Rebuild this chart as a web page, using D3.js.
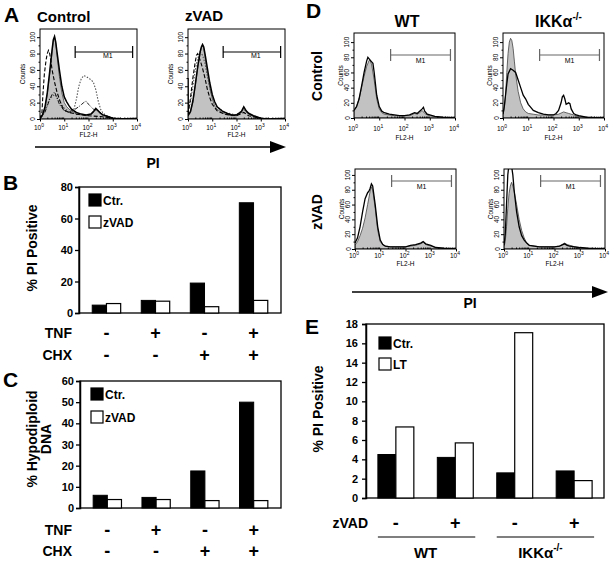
<!DOCTYPE html>
<html><head><meta charset="utf-8">
<script src="https://cdn.jsdelivr.net/npm/d3@7"></script>
<style>body{margin:0;background:#fff} svg{display:block} text{font-family:"Liberation Sans",Arial,Helvetica,sans-serif}</style>
</head><body><svg id="c" width="614" height="562"></svg>
<script>
// ---------- DATA ----------
const barGroups = ["g1","g2","g3","g4"];
const tnfLabels = ["-","+","-","+"];
const chxLabels = ["-","-","+","+"];
const piCtr = [5, 8, 19, 70];
const piZvad = [6, 7.5, 4, 8];
const hypoCtr = [6, 5, 17.5, 50];
const hypoZvad = [4, 4, 3.5, 3.5];
const eCtr = [4.5, 4.2, 2.6, 2.8];
const eLT = [7.35, 5.7, 17.1, 1.8];
const eZvadLabels = ["-","+","-","+"];
const bTicks = [0,20,40,60,80];
const cTicks = [0,10,20,30,40,50,60];
const eTicks = [0,2,4,6,8,10,12,14,16,18];
const histYTicks = [0,20,40,60,80,100];
const histDecades = [0,1,2,3,4];
const m1Gate = [1.45, 3.82];

// histograms: [log10(FL2-H), counts]
const aCtrlFill = [[0,1],[0.1,4],[0.2,12],[0.3,30],[0.4,55],[0.5,82],[0.55,96],[0.6,100],[0.65,92],[0.7,78],[0.8,52],[0.9,32],[1.0,20],[1.1,15],[1.2,12],[1.3,10],[1.5,6],[1.7,5],[1.9,4],[2.1,5],[2.2,8],[2.3,12],[2.4,9],[2.5,6],[2.6,4],[2.8,3],[3.0,1],[3.2,0],[4,0]];
const aCtrlSolid = [[0,1],[0.1,5],[0.2,14],[0.3,32],[0.4,58],[0.5,85],[0.55,97],[0.6,101],[0.65,94],[0.7,82],[0.8,60],[0.9,40],[1.0,27],[1.1,21],[1.2,16],[1.3,12],[1.5,8],[1.7,6],[1.9,5],[2.1,6],[2.2,9],[2.3,13],[2.4,10],[2.5,7],[2.6,5],[2.8,3],[3.0,1],[3.2,0],[4,0]];
const aCtrlDash = [[0,0],[0.08,8],[0.12,30],[0.18,55],[0.25,72],[0.3,80],[0.35,84],[0.4,80],[0.5,60],[0.6,45],[0.7,33],[0.8,24],[0.9,16],[1.0,11],[1.2,8],[1.5,6],[2.0,4],[2.5,3],[3.0,1],[4,0]];
const aCtrlDot = [[0,0],[0.2,10],[0.4,25],[0.6,30],[0.8,22],[1.0,13],[1.2,9],[1.4,12],[1.5,24],[1.6,40],[1.7,49],[1.8,53],[1.9,52],[2.0,50],[2.1,48],[2.2,45],[2.3,36],[2.4,22],[2.5,12],[2.6,7],[2.8,3],[3.0,1],[4,0]];
const aCtrlDashDot = [[0,0],[0.2,8],[0.4,24],[0.5,30],[0.6,33],[0.7,26],[0.8,18],[1.0,10],[1.2,8],[1.4,11],[1.6,15],[1.8,20],[1.9,22],[2.0,18],[2.2,12],[2.4,10],[2.6,5],[3.0,1],[4,0]];

const aZvFill = [[0,3],[0.1,8],[0.2,20],[0.3,40],[0.4,62],[0.5,80],[0.55,87],[0.6,90],[0.65,86],[0.7,76],[0.8,56],[0.9,38],[1.0,25],[1.1,16],[1.2,12],[1.4,8],[1.6,5],[1.8,4],[2.0,4],[2.2,8],[2.3,14],[2.4,9],[2.5,6],[2.7,3],[3.0,1],[3.2,0],[4,0]];
const aZvSolid = [[0,50],[0.01,5],[0.1,9],[0.2,22],[0.3,42],[0.4,64],[0.5,82],[0.55,88],[0.6,91],[0.65,88],[0.7,80],[0.8,62],[0.9,44],[1.0,30],[1.1,21],[1.2,15],[1.4,10],[1.6,7],[1.8,5],[2.0,5],[2.2,9],[2.3,15],[2.4,10],[2.5,7],[2.7,4],[3.0,1],[3.2,0],[4,0]];
const aZvDash = [[0,5],[0.1,25],[0.2,50],[0.3,70],[0.35,78],[0.4,80],[0.5,72],[0.6,62],[0.7,50],[0.8,36],[0.9,26],[1.0,18],[1.2,10],[1.5,6],[2.0,4],[2.3,8],[2.5,4],[3.0,1],[4,0]];
const aZvDot = [[0,10],[0.1,20],[0.2,40],[0.3,60],[0.4,74],[0.5,82],[0.6,78],[0.7,68],[0.8,52],[0.9,38],[1.0,27],[1.2,15],[1.5,8],[2.0,5],[2.3,12],[2.5,6],[3.0,1],[4,0]];

const dWtCtrlFill = [[0,10],[0.1,15],[0.2,25],[0.3,40],[0.4,55],[0.5,68],[0.6,76],[0.65,75],[0.7,70],[0.8,50],[0.9,25],[1.0,12],[1.1,7],[1.2,5],[1.4,4],[1.6,3],[1.8,3],[2.0,3],[2.2,3],[2.4,6],[2.5,5],[2.6,7],[2.7,10],[2.8,6],[2.9,4],[3.0,3],[3.2,2],[3.5,1],[4,0]];
const dWtCtrlLine = [[0,10],[0.1,15],[0.2,25],[0.3,42],[0.4,60],[0.5,75],[0.55,80],[0.6,78],[0.7,74],[0.75,72],[0.8,60],[0.9,30],[1.0,15],[1.1,9],[1.2,7],[1.4,5],[1.6,4],[1.8,3],[2.0,3],[2.2,4],[2.4,7],[2.5,6],[2.6,9],[2.7,12],[2.75,14],[2.8,9],[2.9,5],[3.0,4],[3.2,2],[3.5,1],[4,0]];
const dIkkCtrlFill = [[0,5],[0.05,12],[0.1,30],[0.15,60],[0.2,85],[0.25,100],[0.3,105],[0.35,102],[0.4,92],[0.45,75],[0.5,58],[0.6,35],[0.7,20],[0.8,12],[0.9,8],[1.0,6],[1.2,5],[1.4,4],[1.6,4],[1.8,4],[2.0,4],[2.2,5],[2.4,8],[2.5,7],[2.6,6],[2.8,4],[3.0,2],[3.3,1],[4,0]];
const dIkkCtrlLine = [[0,5],[0.05,15],[0.1,30],[0.15,45],[0.2,58],[0.3,65],[0.4,63],[0.5,60],[0.6,50],[0.7,40],[0.8,30],[0.9,25],[1.0,18],[1.1,14],[1.2,10],[1.4,7],[1.6,5],[1.8,4],[2.0,4],[2.1,6],[2.2,10],[2.3,20],[2.35,28],[2.4,30],[2.45,25],[2.5,18],[2.6,20],[2.65,19],[2.7,12],[2.8,6],[2.9,4],[3.0,3],[3.3,1],[4,0]];
const dWtZvFill = [[0,5],[0.1,10],[0.2,18],[0.3,28],[0.4,42],[0.5,60],[0.6,78],[0.65,84],[0.7,80],[0.8,55],[0.9,25],[1.0,10],[1.1,6],[1.2,4],[1.4,3],[1.6,3],[1.8,3],[2.0,3],[2.2,4],[2.4,5],[2.6,7],[2.7,9],[2.8,6],[3.0,4],[3.2,2],[3.5,1],[4,0]];
const dWtZvLine = [[0,8],[0.1,15],[0.2,30],[0.3,50],[0.4,68],[0.5,76],[0.55,78],[0.6,82],[0.65,88],[0.7,85],[0.8,60],[0.9,30],[1.0,12],[1.1,6],[1.2,4],[1.4,3],[1.6,3],[1.8,3],[2.0,3],[2.2,5],[2.4,6],[2.6,8],[2.7,10],[2.8,7],[3.0,5],[3.2,2],[3.5,1],[4,0]];
const dIkkZvFill = [[0,3],[0.05,10],[0.1,30],[0.15,55],[0.2,75],[0.25,85],[0.3,90],[0.35,85],[0.4,78],[0.5,60],[0.6,40],[0.7,25],[0.8,15],[0.9,8],[1.0,5],[1.2,4],[1.4,3],[1.6,3],[1.8,3],[2.0,3],[2.2,4],[2.4,8],[2.5,6],[2.6,5],[2.8,3],[3.0,2],[3.3,1],[4,0]];
const dIkkZvLine = [[0,5],[0.05,20],[0.1,60],[0.15,100],[0.2,115],[0.25,120],[0.3,112],[0.35,100],[0.4,80],[0.5,50],[0.6,30],[0.7,18],[0.8,12],[0.9,8],[1.0,5],[1.2,4],[1.4,3],[1.6,3],[1.8,3],[2.0,3],[2.2,4],[2.4,7],[2.5,5],[2.6,4],[2.8,3],[3.0,2],[3.3,1],[4,0]];

// ---------- DRAWING ----------
const svg = d3.select("#c");
let clipN = 0;

function label(x, y, s, size, o = {}) {
  const t = svg.append("text").attr("x", x).attr("y", y).attr("font-size", size)
    .attr("font-weight", o.bold === false ? "normal" : "bold")
    .attr("text-anchor", o.anchor || "start").attr("fill", o.fill || "#000");
  if (o.rot) t.attr("transform", `rotate(-90 ${x} ${y})`);
  t.text(s);
  return t;
}

function hist(o) {
  const x = d3.scaleLinear().domain([0, 4]).range([o.x, o.x + o.w]);
  const y = d3.scaleLinear().domain([0, o.yMax]).range([o.y + o.h, o.y]);
  const id = "clip" + (clipN++);
  svg.append("clipPath").attr("id", id).append("rect")
    .attr("x", o.x).attr("y", o.y).attr("width", o.w).attr("height", o.h);
  const g = svg.append("g").attr("clip-path", `url(#${id})`);
  const area = d3.area().x(d => x(d[0])).y0(y(0)).y1(d => y(d[1]));
  const line = d3.line().x(d => x(d[0])).y(d => y(d[1]));
  g.append("path").datum(o.fill).attr("d", area).attr("fill", "#c2c2c2")
    .attr("stroke", "#444").attr("stroke-width", 0.8);
  o.lines.forEach(l => g.append("path").datum(l.data).attr("d", line)
    .attr("fill", "none").attr("stroke", l.color || "#000")
    .attr("stroke-width", l.w || 1.3).attr("stroke-dasharray", l.dash || null));
  svg.append("rect").attr("x", o.x).attr("y", o.y).attr("width", o.w).attr("height", o.h)
    .attr("fill", "none").attr("stroke", "#000").attr("stroke-width", 1);
  const ya = svg.append("g").attr("transform", `translate(${o.x},0)`)
    .call(d3.axisLeft(y).tickValues(histYTicks).tickSize(3).tickFormat(""));
  ya.select(".domain").remove();
  const minorY = d3.range(10, 101, 20);
  svg.append("g").attr("transform", `translate(${o.x},0)`)
    .call(d3.axisLeft(y).tickValues(minorY).tickSize(1.5).tickFormat(""))
    .select(".domain").remove();
  histYTicks.forEach(t => label(o.x - o.labOff, y(t), t, 6.5, { bold: false, anchor: "middle", rot: true }));
  label(o.x - o.cntOff, o.y + o.h / 2, "Counts", 6.5, { bold: false, anchor: "middle", rot: true });
  const minorX = [];
  for (let d = 0; d < 4; d++) for (let k = 2; k <= 9; k++) minorX.push(d + Math.log10(k));
  svg.append("g").attr("transform", `translate(0,${o.y + o.h})`)
    .call(d3.axisTop(x).tickValues(minorX).tickSize(1.5).tickFormat(""))
    .select(".domain").remove();
  svg.append("g").attr("transform", `translate(0,${o.y + o.h})`)
    .call(d3.axisBottom(x).tickValues(histDecades).tickSize(2.5).tickFormat(""))
    .select(".domain").remove();
  histDecades.forEach(dd => {
    const t = svg.append("text").attr("x", x(dd) - 1).attr("y", o.xlabY)
      .attr("font-size", 6.5).attr("text-anchor", "middle");
    t.append("tspan").text("10");
    t.append("tspan").attr("dy", -3).attr("font-size", 5).text(dd);
  });
  label(o.x + o.w / 2, o.flY, "FL2-H", 6.5, { bold: false, anchor: "middle" });
  const mc = o.m1Color;
  const mg = svg.append("g").attr("stroke", mc).attr("stroke-width", 1.2);
  mg.append("line").attr("x1", x(m1Gate[0])).attr("x2", x(m1Gate[1])).attr("y1", o.m1y).attr("y2", o.m1y);
  m1Gate.forEach(v => mg.append("line").attr("x1", x(v)).attr("x2", x(v)).attr("y1", o.m1y - 6).attr("y2", o.m1y + 6));
  label(x((m1Gate[0] + m1Gate[1]) / 2) + (o.m1dx || 0), o.m1y + o.m1ty, "M1", 7, { bold: false, anchor: "middle" });
}

function bars(o) {
  const x = d3.scaleBand().domain(barGroups).range([o.x0, o.x1]).paddingInner(o.pi).paddingOuter(o.po);
  const xs = d3.scaleBand().domain(["a", "b"]).range([0, x.bandwidth()]);
  const y = d3.scaleLinear().domain([0, o.max]).range([o.yBot, o.yTop]);
  svg.append("rect").attr("x", o.x0).attr("y", o.yTop).attr("width", o.x1 - o.x0)
    .attr("height", o.yBot - o.yTop).attr("fill", "none").attr("stroke", "#000").attr("stroke-width", 1.3);
  const ax = svg.append("g").attr("transform", `translate(${o.x0},0)`)
    .call(d3.axisLeft(y).tickValues(o.ticks).tickSize(4).tickPadding(o.tp || 2));
  ax.select(".domain").attr("stroke-width", 1.5);
  ax.selectAll("line").attr("stroke-width", 1.3);
  ax.selectAll("text").attr("font-size", 11).attr("font-weight", "bold")
    .attr("font-family", '"Liberation Sans",Arial,sans-serif');
  barGroups.forEach((gn, i) => {
    svg.append("rect").attr("x", x(gn) + xs("a")).attr("y", y(o.a[i]))
      .attr("width", xs.bandwidth()).attr("height", y(0) - y(o.a[i]))
      .attr("fill", "#000").attr("stroke", "#000").attr("stroke-width", 1);
    svg.append("rect").attr("x", x(gn) + xs("b")).attr("y", y(o.b[i]))
      .attr("width", xs.bandwidth()).attr("height", y(0) - y(o.b[i]))
      .attr("fill", "#fff").attr("stroke", "#000").attr("stroke-width", 1.2);
  });
  o.legend.forEach((l, i) => {
    svg.append("rect").attr("x", o.lx).attr("y", o.ly[i]).attr("width", 12).attr("height", 12)
      .attr("fill", i === 0 ? "#000" : "#fff").attr("stroke", "#000").attr("stroke-width", 1.2);
    label(o.lx + 14, o.ly[i] + 11, l, 12);
  });
  o.rows.forEach(r => {
    label(o.rowX, r.y, r.name, 14, { anchor: "end" });
    barGroups.forEach((gn, i) => label(x(gn) + x.bandwidth() / 2, r.y + 1, r.vals[i], 18, { anchor: "middle" }));
  });
  return x;
}

function arrow(x1, x2, y) {
  svg.append("line").attr("x1", x1).attr("x2", x2 - 10).attr("y1", y).attr("y2", y)
    .attr("stroke", "#000").attr("stroke-width", 1.5);
  svg.append("path").attr("d", `M${x2},${y} L${x2 - 16},${y - 6} L${x2 - 16},${y + 6} Z`).attr("fill", "#000");
}

// ----- Panel A -----
label(4, 22, "A", 21);
label(37, 22, "Control", 15);
label(185, 21, "zVAD", 15);
const aCommon = { y: 29, w: 97, h: 90, yMax: 110, labOff: 5, cntOff: 15, xlabY: 130, flY: 137, m1y: 52, m1ty: 6, m1dx: 4, m1Color: "#000" };
hist(Object.assign({}, aCommon, { x: 40, fill: aCtrlFill, lines: [
  { data: aCtrlDot, dash: "1.5,1.5", color: "#555", w: 1.1 },
  { data: aCtrlDashDot, dash: "4,1.5,1,1.5", w: 0.9 },
  { data: aCtrlDash, dash: "4,2", w: 1.1 },
  { data: aCtrlSolid, w: 1.5 }] }));
hist(Object.assign({}, aCommon, { x: 188, fill: aZvFill, lines: [
  { data: aZvDot, dash: "1.5,1.5", color: "#555", w: 1.1 },
  { data: aZvDash, dash: "4,2", w: 1.1 },
  { data: aZvSolid, w: 1.5 }] }));
arrow(35, 286, 147);
label(153, 168, "PI", 14, { anchor: "middle" });

// ----- Panel B -----
label(3, 190, "B", 21);
label(37, 248, "% PI Positive", 14, { anchor: "middle", rot: true });
bars({ x0: 79, x1: 281, yTop: 187, yBot: 313, max: 80, ticks: bTicks, pi: 0.42, po: 0.27,
  a: piCtr, b: piZvad, legend: ["Ctr.", "zVAD"], lx: 89, ly: [194, 216],
  rowX: 72, rows: [{ name: "TNF", y: 338, vals: tnfLabels }, { name: "CHX", y: 360, vals: chxLabels }] });

// ----- Panel C -----
label(3, 387, "C", 21);
label(37, 439, "% Hypodiploid", 14, { anchor: "middle", rot: true });
label(51, 439, "DNA", 14, { anchor: "middle", rot: true });
bars({ x0: 80, x1: 281, yTop: 381, yBot: 508, max: 60, ticks: cTicks, pi: 0.42, po: 0.27,
  a: hypoCtr, b: hypoZvad, legend: ["Ctr.", "zVAD"], lx: 91, ly: [388, 411],
  rowX: 72, rows: [{ name: "TNF", y: 535, vals: tnfLabels }, { name: "CHX", y: 556, vals: chxLabels }] });

// ----- Panel D -----
label(306, 18, "D", 21);
label(407, 27, "WT", 16, { anchor: "middle" });
const ikkT = svg.append("text").attr("x", 535).attr("y", 27).attr("font-size", 16).attr("font-weight", "bold");
ikkT.append("tspan").text("IKKα");
ikkT.append("tspan").attr("dy", -7).attr("font-size", 10).text("-/-");
label(322, 76, "Control", 14, { anchor: "middle", rot: true });
label(322, 212, "zVAD", 14, { anchor: "middle", rot: true });
const d1 = { y: 33, w: 101, h: 85, yMax: 112, labOff: 4.5, cntOff: 11.5, xlabY: 131, flY: 140, m1y: 55, m1ty: 8, m1Color: "#666" };
const d2 = { y: 169, w: 101, h: 80, yMax: 108, labOff: 4.5, cntOff: 11.5, xlabY: 258, flY: 266, m1y: 181, m1ty: 8, m1Color: "#666" };
hist(Object.assign({}, d1, { x: 354, fill: dWtCtrlFill, lines: [{ data: dWtCtrlLine, w: 1.3 }] }));
hist(Object.assign({}, d1, { x: 503, fill: dIkkCtrlFill, lines: [{ data: dIkkCtrlLine, w: 1.3 }] }));
hist(Object.assign({}, d2, { x: 355, fill: dWtZvFill, lines: [{ data: dWtZvLine, w: 1.3 }] }));
hist(Object.assign({}, d2, { x: 504, fill: dIkkZvFill, lines: [{ data: dIkkZvLine, w: 1.3 }] }));
arrow(352, 608, 292);
label(470, 308, "PI", 14, { anchor: "middle" });

// ----- Panel E -----
label(305, 334, "E", 21);
label(323, 409, "% PI Positive", 14, { anchor: "middle", rot: true });
const ex = bars({ x0: 366, x1: 604, yTop: 324, yBot: 498, max: 18, ticks: eTicks, pi: 0.395, po: 0.2, tp: 4,
  a: eCtr, b: eLT, legend: ["Ctr.", "LT"], lx: 379, ly: [337, 358],
  rowX: 368, rows: [{ name: "zVAD", y: 528, vals: eZvadLabels }] });
svg.append("line").attr("x1", ex("g1")).attr("x2", ex("g2") + ex.bandwidth() + 2).attr("y1", 537).attr("y2", 537).attr("stroke", "#000").attr("stroke-width", 1.2);
svg.append("line").attr("x1", ex("g3")).attr("x2", ex("g4") + ex.bandwidth() + 2).attr("y1", 537).attr("y2", 537).attr("stroke", "#000").attr("stroke-width", 1.2);
label((ex("g1") + ex("g2") + ex.bandwidth()) / 2, 558, "WT", 15, { anchor: "middle" });
const ikkE = svg.append("text").attr("x", (ex("g3") + ex("g4") + ex.bandwidth()) / 2 - 4).attr("y", 558)
  .attr("font-size", 15).attr("font-weight", "bold").attr("text-anchor", "middle");
ikkE.append("tspan").text("IKKα");
ikkE.append("tspan").attr("dy", -7).attr("font-size", 10).text("-/-");
</script></body></html>
